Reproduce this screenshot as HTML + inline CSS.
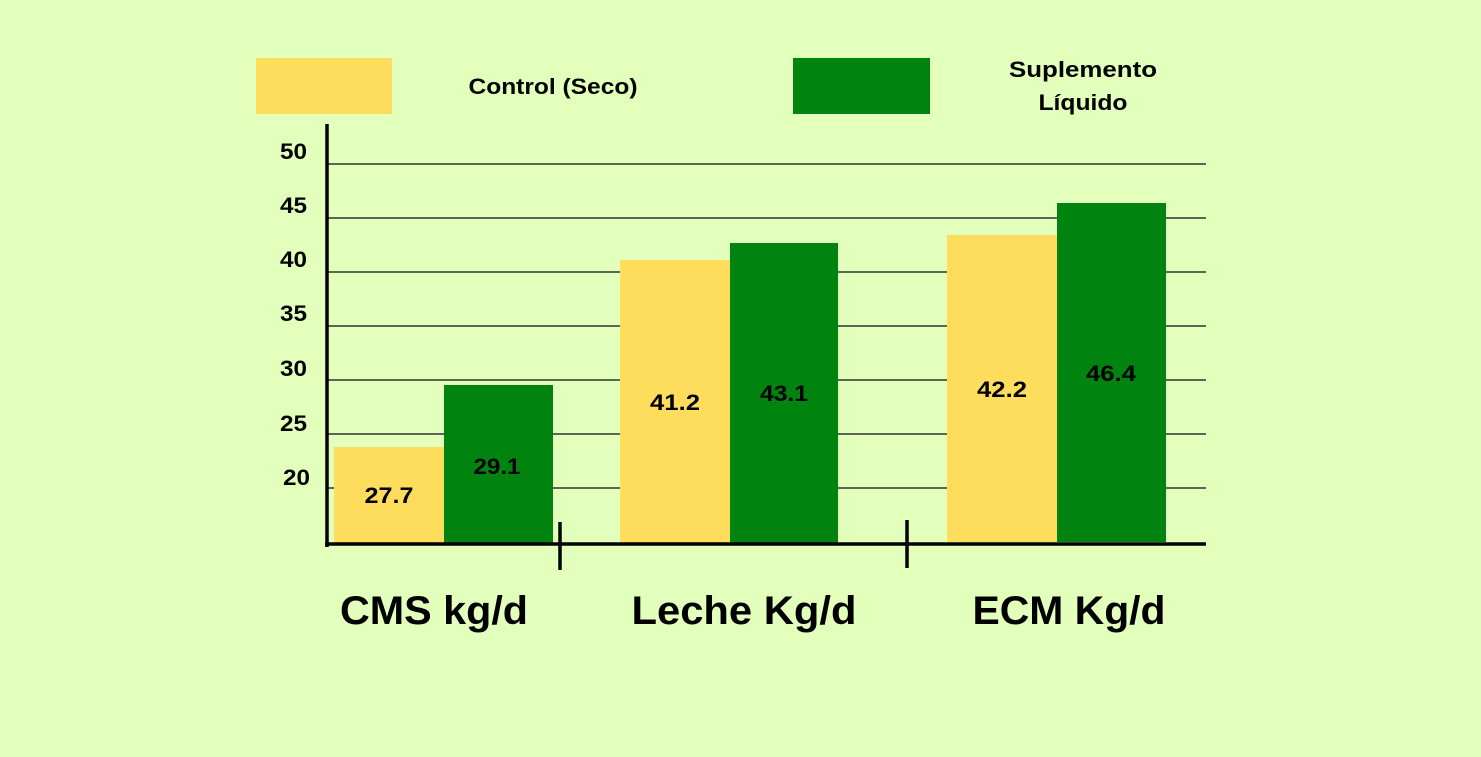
<!DOCTYPE html>
<html><head><meta charset="utf-8"><style>
html,body{margin:0;padding:0;background:#e2ffbc;}
svg{display:block;}
text{font-family:"Liberation Sans","DejaVu Sans",sans-serif;font-weight:bold;fill:#000;}
</style></head><body>
<svg width="1481" height="757" viewBox="0 0 1481 757">
<rect width="1481" height="757" fill="#e2ffbc"/>
<rect x="256" y="58" width="136" height="56" fill="#ffdd5c"/>
<text x="553" y="94" font-size="22" text-anchor="middle" textLength="169" lengthAdjust="spacingAndGlyphs">Control (Seco)</text>
<rect x="793" y="58" width="137" height="56" fill="#00840f"/>
<text x="1083" y="77" font-size="22" text-anchor="middle" textLength="148" lengthAdjust="spacingAndGlyphs">Suplemento</text>
<text x="1083" y="110" font-size="22" text-anchor="middle" textLength="89" lengthAdjust="spacingAndGlyphs">Líquido</text>
<g stroke="#333" stroke-width="1.5">
<line x1="328" y1="164" x2="1206" y2="164"/>
<line x1="328" y1="218" x2="1206" y2="218"/>
<line x1="328" y1="272" x2="1206" y2="272"/>
<line x1="328" y1="326" x2="1206" y2="326"/>
<line x1="328" y1="380" x2="1206" y2="380"/>
<line x1="328" y1="434" x2="1206" y2="434"/>
<line x1="328" y1="488" x2="1206" y2="488"/>
</g>
<g font-size="22" text-anchor="end">
<text x="307" y="159" textLength="27" lengthAdjust="spacingAndGlyphs">50</text>
<text x="307" y="213" textLength="27" lengthAdjust="spacingAndGlyphs">45</text>
<text x="307" y="267" textLength="27" lengthAdjust="spacingAndGlyphs">40</text>
<text x="307" y="321" textLength="27" lengthAdjust="spacingAndGlyphs">35</text>
<text x="307" y="376" textLength="27" lengthAdjust="spacingAndGlyphs">30</text>
<text x="307" y="431" textLength="27" lengthAdjust="spacingAndGlyphs">25</text>
<text x="310" y="485" textLength="27" lengthAdjust="spacingAndGlyphs">20</text>
</g>
<rect x="334" y="447" width="110" height="97" fill="#ffdd5c"/>
<rect x="444" y="385" width="109" height="159" fill="#00840f"/>
<rect x="620" y="260" width="110" height="283" fill="#ffdd5c"/>
<rect x="730" y="243" width="108" height="300" fill="#00840f"/>
<rect x="947" y="235" width="110" height="307" fill="#ffdd5c"/>
<rect x="1057" y="203" width="109" height="339" fill="#00840f"/>
<g font-size="22" text-anchor="middle">
<text x="389" y="503" textLength="49" lengthAdjust="spacingAndGlyphs">27.7</text>
<text x="497" y="474" textLength="47" lengthAdjust="spacingAndGlyphs">29.1</text>
<text x="675" y="410" textLength="50" lengthAdjust="spacingAndGlyphs">41.2</text>
<text x="784" y="401" textLength="48" lengthAdjust="spacingAndGlyphs">43.1</text>
<text x="1002" y="397" textLength="50" lengthAdjust="spacingAndGlyphs">42.2</text>
<text x="1111" y="381" textLength="50" lengthAdjust="spacingAndGlyphs">46.4</text>
</g>
<line x1="327" y1="124" x2="327" y2="547" stroke="#000" stroke-width="3.5"/>
<line x1="325" y1="544" x2="1206" y2="544" stroke="#000" stroke-width="3.5"/>
<line x1="560" y1="522" x2="560" y2="570" stroke="#000" stroke-width="3.5"/>
<line x1="907" y1="520" x2="907" y2="568" stroke="#000" stroke-width="3.5"/>
<g font-size="40" text-anchor="middle">
<text x="434" y="624" textLength="188" lengthAdjust="spacingAndGlyphs">CMS kg/d</text>
<text x="744" y="624" textLength="225" lengthAdjust="spacingAndGlyphs">Leche Kg/d</text>
<text x="1069" y="624" textLength="193" lengthAdjust="spacingAndGlyphs">ECM Kg/d</text>
</g>
</svg>
</body></html>
